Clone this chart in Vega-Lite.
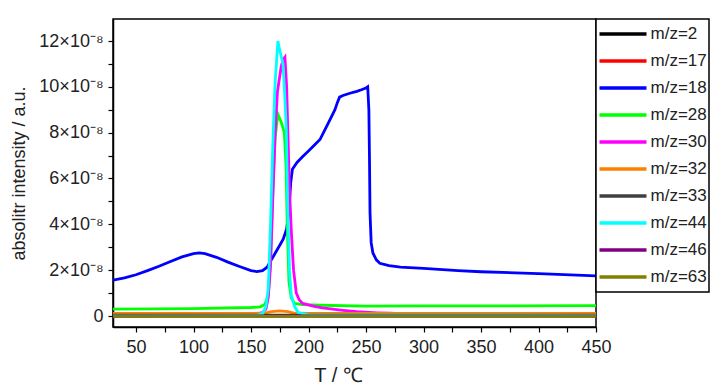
{
  "$schema": "https://vega.github.io/schema/vega-lite/v6.json",
  "autosize": "none",
  "width": 483,
  "height": 308,
  "padding": {"left": 113, "top": 19, "right": 130, "bottom": 63},
  "background": "white",
  "config": {
    "font": "Liberation Sans",
    "view": {"stroke": "black", "strokeWidth": 1.5},
    "axis": {"domainColor": "black", "domainWidth": 1.5, "tickColor": "black", "tickWidth": 1.2, "tickSize": 5, "labelColor": "#222", "labelFontSize": 18, "titleFontSize": 18, "titleFontWeight": "normal", "titleColor": "#222", "grid": false, "labelFont": "Liberation Sans", "titleFont": "Liberation Sans"}
  },
  "data": {"values": [
    {"mz": "m/z=2", "T": 30, "I": 0.01e-8}, {"mz": "m/z=2", "T": 450, "I": 0.01e-8},
    {"mz": "m/z=17", "T": 30, "I": 0.03e-8}, {"mz": "m/z=17", "T": 450, "I": 0.03e-8},
    {"mz": "m/z=18", "T": 30, "I": 1.56e-8}, {"mz": "m/z=18", "T": 40, "I": 1.66e-8}, {"mz": "m/z=18", "T": 50, "I": 1.8e-8}, {"mz": "m/z=18", "T": 60, "I": 1.98e-8}, {"mz": "m/z=18", "T": 70, "I": 2.17e-8}, {"mz": "m/z=18", "T": 80, "I": 2.38e-8}, {"mz": "m/z=18", "T": 90, "I": 2.58e-8}, {"mz": "m/z=18", "T": 100, "I": 2.72e-8}, {"mz": "m/z=18", "T": 105, "I": 2.75e-8}, {"mz": "m/z=18", "T": 110, "I": 2.72e-8}, {"mz": "m/z=18", "T": 120, "I": 2.56e-8}, {"mz": "m/z=18", "T": 130, "I": 2.35e-8}, {"mz": "m/z=18", "T": 140, "I": 2.16e-8}, {"mz": "m/z=18", "T": 150, "I": 1.98e-8}, {"mz": "m/z=18", "T": 155, "I": 1.94e-8}, {"mz": "m/z=18", "T": 160, "I": 1.98e-8}, {"mz": "m/z=18", "T": 164, "I": 2.13e-8}, {"mz": "m/z=18", "T": 167, "I": 2.4e-8}, {"mz": "m/z=18", "T": 170, "I": 2.65e-8}, {"mz": "m/z=18", "T": 174, "I": 3.0e-8}, {"mz": "m/z=18", "T": 178, "I": 3.35e-8}, {"mz": "m/z=18", "T": 181, "I": 3.8e-8}, {"mz": "m/z=18", "T": 183, "I": 4.6e-8}, {"mz": "m/z=18", "T": 184.5, "I": 5.8e-8}, {"mz": "m/z=18", "T": 186, "I": 6.4e-8}, {"mz": "m/z=18", "T": 190, "I": 6.7e-8}, {"mz": "m/z=18", "T": 195, "I": 6.96e-8}, {"mz": "m/z=18", "T": 200, "I": 7.2e-8}, {"mz": "m/z=18", "T": 205, "I": 7.45e-8}, {"mz": "m/z=18", "T": 210, "I": 7.7e-8}, {"mz": "m/z=18", "T": 215, "I": 8.2e-8}, {"mz": "m/z=18", "T": 220, "I": 8.7e-8}, {"mz": "m/z=18", "T": 223, "I": 9.0e-8}, {"mz": "m/z=18", "T": 225, "I": 9.3e-8}, {"mz": "m/z=18", "T": 227, "I": 9.55e-8}, {"mz": "m/z=18", "T": 230, "I": 9.62e-8}, {"mz": "m/z=18", "T": 236, "I": 9.72e-8}, {"mz": "m/z=18", "T": 242, "I": 9.8e-8}, {"mz": "m/z=18", "T": 246, "I": 9.87e-8}, {"mz": "m/z=18", "T": 250, "I": 9.95e-8}, {"mz": "m/z=18", "T": 251.5, "I": 10.0e-8}, {"mz": "m/z=18", "T": 252.5, "I": 9.0e-8}, {"mz": "m/z=18", "T": 253, "I": 7.0e-8}, {"mz": "m/z=18", "T": 253.5, "I": 4.5e-8}, {"mz": "m/z=18", "T": 254.5, "I": 3.2e-8}, {"mz": "m/z=18", "T": 256, "I": 2.75e-8}, {"mz": "m/z=18", "T": 259, "I": 2.45e-8}, {"mz": "m/z=18", "T": 262, "I": 2.3e-8}, {"mz": "m/z=18", "T": 270, "I": 2.2e-8}, {"mz": "m/z=18", "T": 280, "I": 2.13e-8}, {"mz": "m/z=18", "T": 300, "I": 2.08e-8}, {"mz": "m/z=18", "T": 330, "I": 1.98e-8}, {"mz": "m/z=18", "T": 350, "I": 1.93e-8}, {"mz": "m/z=18", "T": 400, "I": 1.85e-8}, {"mz": "m/z=18", "T": 450, "I": 1.75e-8},
    {"mz": "m/z=28", "T": 30, "I": 0.3e-8}, {"mz": "m/z=28", "T": 100, "I": 0.32e-8}, {"mz": "m/z=28", "T": 150, "I": 0.37e-8}, {"mz": "m/z=28", "T": 158, "I": 0.4e-8}, {"mz": "m/z=28", "T": 162, "I": 0.5e-8}, {"mz": "m/z=28", "T": 165, "I": 0.9e-8}, {"mz": "m/z=28", "T": 167, "I": 2.5e-8}, {"mz": "m/z=28", "T": 169, "I": 5.5e-8}, {"mz": "m/z=28", "T": 171, "I": 7.8e-8}, {"mz": "m/z=28", "T": 173.4, "I": 8.8e-8}, {"mz": "m/z=28", "T": 176, "I": 8.5e-8}, {"mz": "m/z=28", "T": 179, "I": 8.0e-8}, {"mz": "m/z=28", "T": 180.5, "I": 6.5e-8}, {"mz": "m/z=28", "T": 181.5, "I": 4.0e-8}, {"mz": "m/z=28", "T": 183, "I": 1.5e-8}, {"mz": "m/z=28", "T": 185, "I": 0.8e-8}, {"mz": "m/z=28", "T": 188, "I": 0.55e-8}, {"mz": "m/z=28", "T": 195, "I": 0.5e-8}, {"mz": "m/z=28", "T": 210, "I": 0.47e-8}, {"mz": "m/z=28", "T": 250, "I": 0.43e-8}, {"mz": "m/z=28", "T": 300, "I": 0.44e-8}, {"mz": "m/z=28", "T": 450, "I": 0.45e-8},
    {"mz": "m/z=30", "T": 30, "I": 0.05e-8}, {"mz": "m/z=30", "T": 155, "I": 0.08e-8}, {"mz": "m/z=30", "T": 160, "I": 0.15e-8}, {"mz": "m/z=30", "T": 163, "I": 0.3e-8}, {"mz": "m/z=30", "T": 165, "I": 0.8e-8}, {"mz": "m/z=30", "T": 167, "I": 2.2e-8}, {"mz": "m/z=30", "T": 169, "I": 5.2e-8}, {"mz": "m/z=30", "T": 171, "I": 8.0e-8}, {"mz": "m/z=30", "T": 173, "I": 9.8e-8}, {"mz": "m/z=30", "T": 176.3, "I": 10.9e-8}, {"mz": "m/z=30", "T": 178, "I": 11.2e-8}, {"mz": "m/z=30", "T": 179.5, "I": 11.3e-8}, {"mz": "m/z=30", "T": 181, "I": 10.0e-8}, {"mz": "m/z=30", "T": 182, "I": 8.1e-8}, {"mz": "m/z=30", "T": 183.5, "I": 5.5e-8}, {"mz": "m/z=30", "T": 185, "I": 3.75e-8}, {"mz": "m/z=30", "T": 187, "I": 2.0e-8}, {"mz": "m/z=30", "T": 189.4, "I": 1.0e-8}, {"mz": "m/z=30", "T": 192, "I": 0.7e-8}, {"mz": "m/z=30", "T": 195, "I": 0.55e-8}, {"mz": "m/z=30", "T": 205, "I": 0.42e-8}, {"mz": "m/z=30", "T": 212, "I": 0.35e-8}, {"mz": "m/z=30", "T": 230, "I": 0.25e-8}, {"mz": "m/z=30", "T": 242, "I": 0.19e-8}, {"mz": "m/z=30", "T": 260, "I": 0.14e-8}, {"mz": "m/z=30", "T": 271, "I": 0.12e-8}, {"mz": "m/z=30", "T": 280, "I": 0.1e-8}, {"mz": "m/z=30", "T": 450, "I": 0.08e-8},
    {"mz": "m/z=32", "T": 30, "I": 0.11e-8}, {"mz": "m/z=32", "T": 150, "I": 0.11e-8}, {"mz": "m/z=32", "T": 162, "I": 0.13e-8}, {"mz": "m/z=32", "T": 168, "I": 0.19e-8}, {"mz": "m/z=32", "T": 175, "I": 0.22e-8}, {"mz": "m/z=32", "T": 182, "I": 0.19e-8}, {"mz": "m/z=32", "T": 188, "I": 0.12e-8}, {"mz": "m/z=32", "T": 200, "I": 0.11e-8}, {"mz": "m/z=32", "T": 450, "I": 0.11e-8},
    {"mz": "m/z=33", "T": 30, "I": 0.04e-8}, {"mz": "m/z=33", "T": 450, "I": 0.04e-8},
    {"mz": "m/z=44", "T": 30, "I": 0.02e-8}, {"mz": "m/z=44", "T": 155, "I": 0.03e-8}, {"mz": "m/z=44", "T": 160, "I": 0.1e-8}, {"mz": "m/z=44", "T": 163, "I": 0.4e-8}, {"mz": "m/z=44", "T": 165, "I": 1.2e-8}, {"mz": "m/z=44", "T": 167, "I": 4.0e-8}, {"mz": "m/z=44", "T": 169, "I": 7.5e-8}, {"mz": "m/z=44", "T": 171, "I": 10.2e-8}, {"mz": "m/z=44", "T": 173.4, "I": 12.0e-8}, {"mz": "m/z=44", "T": 175, "I": 11.6e-8}, {"mz": "m/z=44", "T": 177.8, "I": 11.0e-8}, {"mz": "m/z=44", "T": 179.5, "I": 9.5e-8}, {"mz": "m/z=44", "T": 180.7, "I": 8.1e-8}, {"mz": "m/z=44", "T": 182, "I": 4.5e-8}, {"mz": "m/z=44", "T": 183.5, "I": 2.0e-8}, {"mz": "m/z=44", "T": 185, "I": 0.9e-8}, {"mz": "m/z=44", "T": 188, "I": 0.4e-8}, {"mz": "m/z=44", "T": 191, "I": 0.15e-8}, {"mz": "m/z=44", "T": 200, "I": 0.05e-8}, {"mz": "m/z=44", "T": 450, "I": 0.03e-8},
    {"mz": "m/z=46", "T": 30, "I": 0.0}, {"mz": "m/z=46", "T": 450, "I": 0.0},
    {"mz": "m/z=63", "T": 30, "I": -0.02e-8}, {"mz": "m/z=63", "T": 450, "I": -0.02e-8}
  ]},
  "mark": {"type": "line", "strokeWidth": 2.8, "clip": true},
  "encoding": {
    "x": {"field": "T", "type": "quantitative", "scale": {"domain": [30, 450], "nice": false, "zero": false},
      "axis": {"title": "T / ℃", "titleFontSize": 20, "titleX": 225, "titlePadding": 9, "values": [50, 75, 100, 125, 150, 175, 200, 225, 250, 275, 300, 325, 350, 375, 400, 425, 450], "labelExpr": "datum.value % 50 == 0 ? datum.label : ''", "labelPadding": 6, "labelFlush": false}},
    "y": {"field": "I", "type": "quantitative", "scale": {"domain": [-0.48e-8, 12.96e-8], "nice": false, "zero": false},
      "axis": {"title": "absolitr intensity / a.u.", "values": [0, 1e-8, 2e-8, 3e-8, 4e-8, 5e-8, 6e-8, 7e-8, 8e-8, 9e-8, 10e-8, 11e-8, 12e-8], "labelExpr": "datum.value == 0 ? '0' : (round(datum.value*1e8) % 2 == 0 ? round(datum.value*1e8) + '×10⁻⁸' : '')", "labelPadding": 5, "titlePadding": 10}},
    "color": {"field": "mz", "type": "nominal",
      "scale": {"domain": ["m/z=2", "m/z=17", "m/z=18", "m/z=28", "m/z=30", "m/z=32", "m/z=33", "m/z=44", "m/z=46", "m/z=63"],
        "range": ["#000000", "#ff0000", "#0000ff", "#00ff00", "#ff00ff", "#ff8000", "#404040", "#00ffff", "#800080", "#808000"]},
      "legend": {"title": null, "orient": "none", "legendX": 483, "legendY": 0, "strokeColor": "black", "fillColor": "white", "padding": 1.5, "symbolType": "stroke", "symbolSize": 2209, "symbolStrokeWidth": 3.5, "clipHeight": 27, "rowPadding": 0, "labelFontSize": 17, "labelOffset": 2, "labelColor": "#222", "labelFont": "Liberation Sans",
        "encode": {"legend": {"update": {"strokeWidth": {"value": 1.5}}}}}}
  }
}
